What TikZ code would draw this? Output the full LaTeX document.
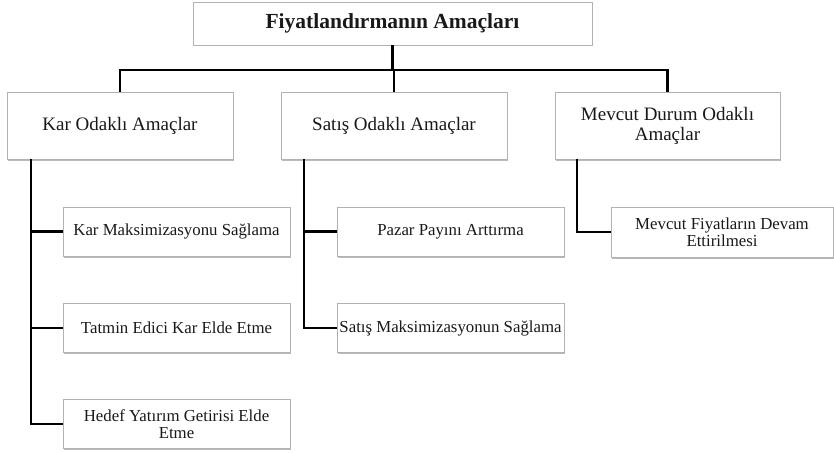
\documentclass[tikz,border=0pt]{standalone}
\usepackage{fontspec}
\setmainfont{Liberation Serif}
\usetikzlibrary{shadows}

\begin{document}
\begin{tikzpicture}[x=1pt, y=-1pt,
        box/.style={draw=black!30, fill=white, line width=0.8pt, align=center, text=black!90, inner sep=2pt,
            drop shadow={shadow xshift=1.2pt, shadow yshift=-1.5pt, opacity=.45, fill=black!60}},
        topbox/.style={box, minimum width=399pt, minimum height=43pt, font=\fontsize{21.5}{23}\selectfont\bfseries},
        midbox/.style={box, minimum width=226pt, minimum height=67pt, font=\fontsize{19}{20}\selectfont},
        subbox/.style={box, minimum width=227pt, minimum height=49pt, font=\fontsize{16.8}{17}\selectfont},
        link/.style={line width=2.2pt, black}]
        \useasboundingbox (0,0) rectangle (834,452);
        \coordinate (bus) at (0,70);
        % top level
        \node[topbox] (top) at (392.5,23.5) {Fiyatlandırmanın Amaçları};
        % second level
        \node[midbox] (kar) at (120,125.5) {Kar Odaklı Amaçlar};
        \node[midbox] (sat) at (394,125.5) {Satış Odaklı Amaçlar};
        \node[midbox, minimum width=225pt] (mev) at (667.5,125.5) {Mevcut Durum Odaklı\\Amaçlar};
        % sub goals
        \node[subbox] (kar1) at (176.5,231.5) {Kar Maksimizasyonu Sağlama};
        \node[subbox] (kar2) at (176.5,328) {Tatmin Edici Kar Elde Etme};
        \node[subbox] (kar3) at (176.5,424) {Hedef Yatırım Getirisi Elde\\Etme};
        \node[subbox] (sat1) at (450.5,231.5) {Pazar Payını Arttırma};
        \node[subbox] (sat2) at (450.5,328) {Satış Maksimizasyonun Sağlama};
        \node[subbox, minimum width=222pt, minimum height=50pt] (mev1) at (722,232) {Mevcut Fiyatların Devam\\Ettirilmesi};
        % connectors
        \draw[link] (top.south) -- (top.south |- bus);
        \draw[link] (kar.north) -- (kar.north |- bus) -- (mev.north |- bus) -- (mev.north);
        \draw[link] (sat.north) -- (sat.north |- bus);
        \draw[link] ([xshift=24pt]kar.south west) |- (kar1.west);
        \draw[link] ([xshift=24pt]kar.south west) |- (kar2.west);
        \draw[link] ([xshift=24pt]kar.south west) |- (kar3.west);
        \draw[link] ([xshift=23pt]sat.south west) |- (sat1.west);
        \draw[link] ([xshift=23pt]sat.south west) |- (sat2.west);
        \draw[link] ([xshift=22pt]mev.south west) |- (mev1.west);
\end{tikzpicture}
\end{document}
